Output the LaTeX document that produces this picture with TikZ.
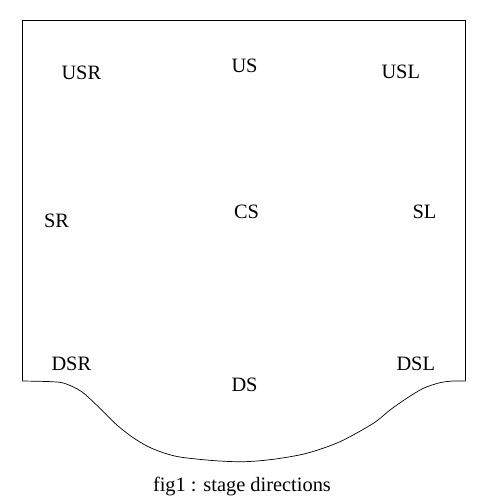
\documentclass[tikz,border=0pt]{standalone}
\usepackage{fontspec}
\setmainfont{Liberation Serif}
\begin{document}
\begin{tikzpicture}[x=1pt,y=-1pt,
  lbl/.style={anchor=base west,inner sep=0pt,outer sep=0pt,font=\fontsize{20.4}{24}\selectfont},
  outline/.style={draw=black,line width=0.9pt,line join=miter}]
\useasboundingbox (0,0) rectangle (500,500);
\draw[outline] (22.5,381) -- (22.5,20) -- (465.5,20) -- (465.5,381);
\draw[outline,line width=0.7pt] plot[smooth,tension=0.5] coordinates {
  (22.5,381) (51.7,381.7) (65,383.5) (81.7,391.7) (98.3,406.7) (115,423.3)
  (131.7,436.7) (148.3,446.7) (165,453.3) (181.7,457.3) (215,460.7)
  (244,461.7) (273.3,459.3) (306.7,453.3) (340,441.7) (373.3,423.3)
  (390,410) (406.7,398.3) (423.3,388.3) (440,382.7) (453.3,381) (465.5,381)};
\node[lbl] (usr) at (61.5,79.3) {USR};
\node[lbl] (us)  at (231.5,72.3) {US};
\node[lbl] (usl) at (381.5,78.3) {USL};
\node[lbl] (sr)  at (44,227.3) {SR};
\node[lbl] (cs)  at (234,218.3) {CS};
\node[lbl] (sl)  at (412.5,218.3) {SL};
\node[lbl] (dsr) at (51.5,370) {DSR};
\node[lbl] (ds)  at (231.5,391) {DS};
\node[lbl] (dsl) at (396.5,370) {DSL};
\node[lbl] (cap) at (153,491) {fig1 : stage directions};
\end{tikzpicture}
\end{document}
